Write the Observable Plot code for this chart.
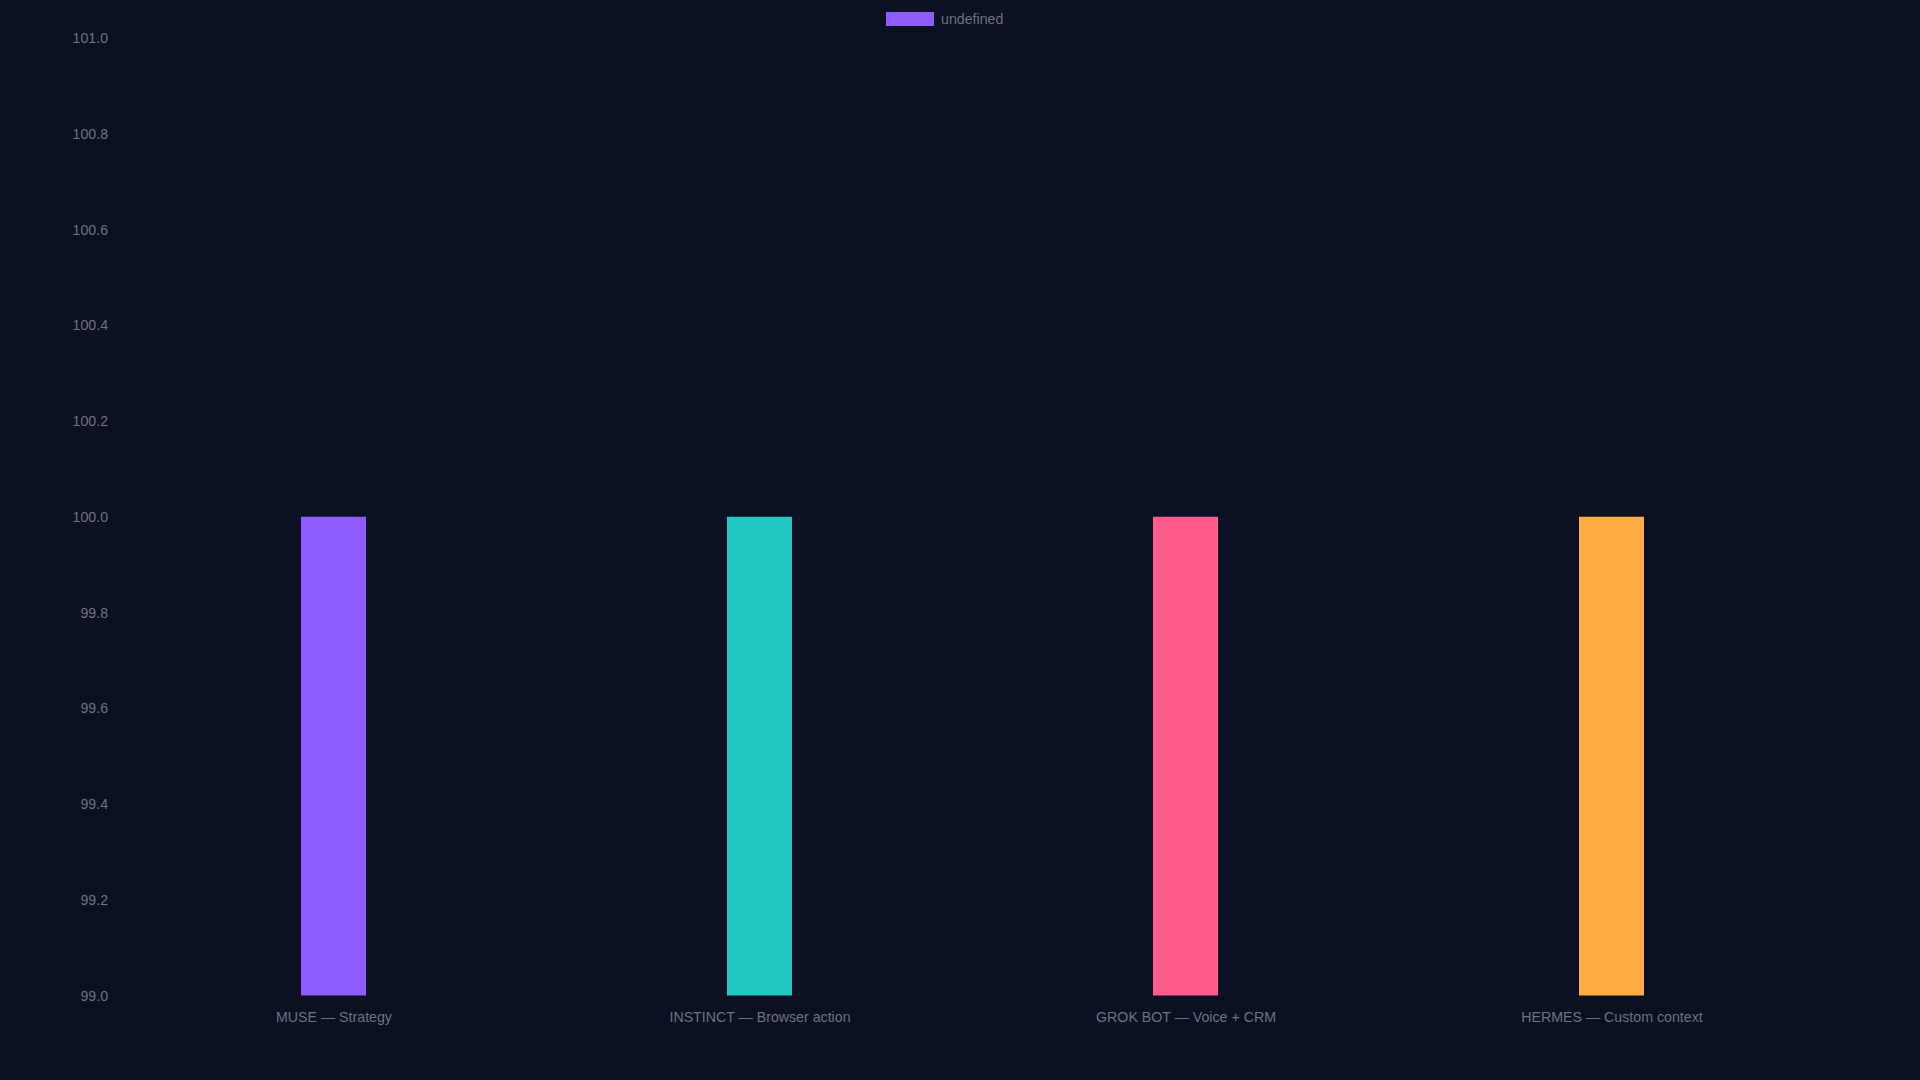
<!DOCTYPE html>
<html>
<head>
<meta charset="utf-8">
<script src="https://cdn.jsdelivr.net/npm/d3@7"></script>
<script src="https://cdn.jsdelivr.net/npm/@observablehq/plot@0.6"></script>
<style>
  html, body { margin: 0; padding: 0; background: #0b1022; }
  body { width: 1920px; height: 1080px; overflow: hidden; font-family: "Liberation Sans", Arial, sans-serif; }
  #legend { position: relative; height: 30px; width: 1920px; }
  #legend .sw { position: absolute; left: 886px; top: 12px; width: 48px; height: 14px; background: #8e5cff; }
  #legend .lb { position: absolute; left: 941px; top: 10px; font-size: 14.2px; line-height: 18px; color: #6b7280; }
  #chart svg { display: block; }
</style>
</head>
<body>
<div id="legend"><div class="sw"></div><div class="lb">undefined</div></div>
<div id="chart"></div>
<script>
const categories = ["MUSE — Strategy", "INSTINCT — Browser action", "GROK BOT — Voice + CRM", "HERMES — Custom context"];
const values = [100, 100, 100, 100];
const colors = ["#8e5cff", "#1fc8c0", "#ff5c8c", "#ffad42"];
const yDomain = [99, 101];
const yTicks = [99.0, 99.2, 99.4, 99.6, 99.8, 100.0, 100.2, 100.4, 100.6, 100.8, 101.0];

const data = categories.map((c, i) => ({category: c, value: values[i], color: colors[i]}));

const chart = Plot.plot({
  width: 1920,
  height: 1050,
  marginTop: 8,
  marginBottom: 84.5,
  marginLeft: 120.4,
  marginRight: 95.6,
  style: {background: "transparent", color: "#6b7280", fontSize: "14.2px", fontFamily: "'Liberation Sans', Arial, sans-serif"},
  x: {domain: categories, paddingInner: 0.847, paddingOuter: 0.4235, label: null},
  y: {domain: yDomain, label: null},
  marks: [
    Plot.barY(data, {x: "category", y1: yDomain[0], y2: "value", fill: "color"}),
    Plot.axisX({tickSize: 0, tickPadding: 15.5, fill: "#6b7280", fontSize: 14.2}),
    Plot.axisY({ticks: yTicks, tickFormat: d3.format(".1f"), tickSize: 0, tickPadding: 12.8, fill: "#6b7280", fontSize: 14.2})
  ]
});
document.getElementById("chart").appendChild(chart);
</script>
</body>
</html>
